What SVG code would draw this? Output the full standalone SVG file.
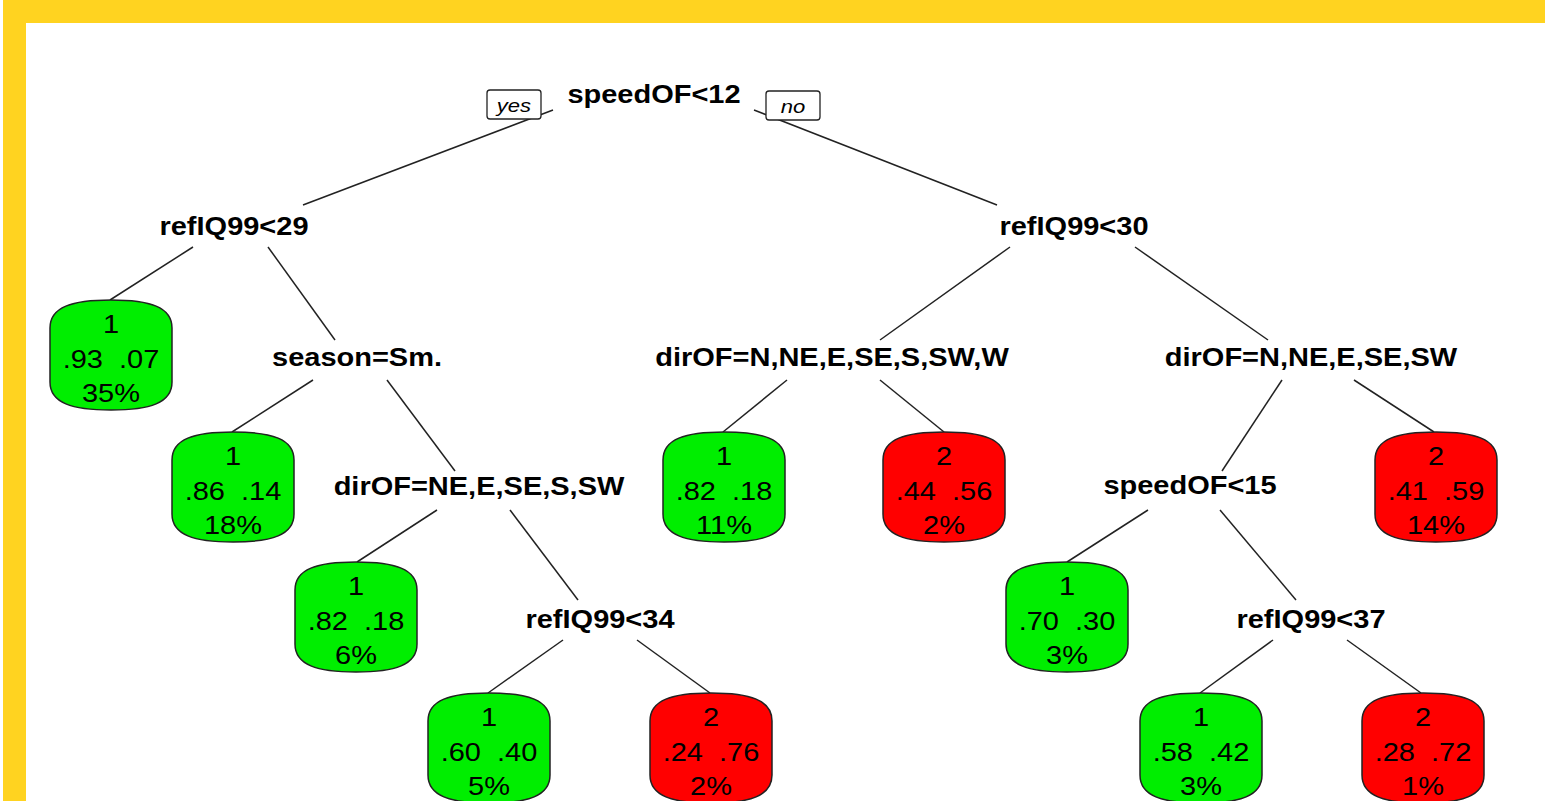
<svg xmlns="http://www.w3.org/2000/svg" xmlns:xlink="http://www.w3.org/1999/xlink" width="1545" height="801" viewBox="0 0 1545 801">
<style>
text{font-family:"Liberation Sans",Arial,sans-serif;font-size:25px;fill:#000;text-anchor:middle;white-space:pre}
.split{font-weight:bold}
.yn{font-size:19px;font-style:italic}
.edge{stroke:#222;stroke-width:1.5;fill:none}
.g{fill:#00EE00;stroke:#222;stroke-width:1.5}
.r{fill:#FF0000;stroke:#222;stroke-width:1.5}
.lab{fill:#fff;stroke:#222;stroke-width:1.3}
</style>
<defs>
<path id="leaf" d="M0,28 C0,7 22,0 61,0 C100,0 122,7 122,28 L122,82 C122,103 100,110 61,110 C22,110 0,103 0,82 Z"/>
</defs>
<rect x="0" y="0" width="1545" height="801" fill="#fff"/>
<rect x="3" y="0" width="1542" height="23" fill="#FFD320"/>
<rect x="3" y="0" width="23" height="801" fill="#FFD320"/>

<g id="connectors">
<line class="edge" x1="553" y1="110" x2="303" y2="205"/>
<line class="edge" x1="754" y1="110" x2="997" y2="205"/>
<line class="edge" x1="193" y1="247" x2="110" y2="300"/>
<line class="edge" x1="268" y1="247" x2="335" y2="340"/>
<line class="edge" x1="313" y1="380" x2="232" y2="432"/>
<line class="edge" x1="387" y1="380" x2="455" y2="471"/>
<line class="edge" x1="437" y1="510" x2="357" y2="562"/>
<line class="edge" x1="510" y1="510" x2="578" y2="600"/>
<line class="edge" x1="563" y1="640" x2="488" y2="693"/>
<line class="edge" x1="637" y1="640" x2="710" y2="693"/>
<line class="edge" x1="1010" y1="247" x2="880" y2="340"/>
<line class="edge" x1="1135" y1="247" x2="1268" y2="340"/>
<line class="edge" x1="787" y1="380" x2="723" y2="432"/>
<line class="edge" x1="880" y1="380" x2="944" y2="432"/>
<line class="edge" x1="1282" y1="380" x2="1222" y2="471"/>
<line class="edge" x1="1354" y1="380" x2="1434" y2="432"/>
<line class="edge" x1="1148" y1="510" x2="1067" y2="562"/>
<line class="edge" x1="1220" y1="510" x2="1296" y2="600"/>
<line class="edge" x1="1273" y1="640" x2="1200" y2="693"/>
<line class="edge" x1="1347" y1="640" x2="1421" y2="693"/>
</g>

<g id="yes-label">
<rect class="lab" x="487" y="90" width="54" height="29" rx="3"/>
<text class="yn" transform="translate(514,112) scale(1.16,1)">yes</text>
</g>
<g id="no-label">
<rect class="lab" x="766" y="91" width="54" height="29" rx="3"/>
<text class="yn" transform="translate(793,113) scale(1.16,1)">no</text>
</g>

<g id="n-root"><text class="split" transform="translate(654,103) scale(1.16,1)">speedOF&lt;12</text></g>
<g id="n-refIQ99-29"><text class="split" transform="translate(234,235) scale(1.16,1)">refIQ99&lt;29</text></g>
<g id="n-refIQ99-30"><text class="split" transform="translate(1074,235) scale(1.16,1)">refIQ99&lt;30</text></g>
<g id="n-season"><text class="split" transform="translate(357,366) scale(1.16,1)">season=Sm.</text></g>
<g id="n-dir7"><text class="split" transform="translate(832,366) scale(1.16,1)">dirOF=N,NE,E,SE,S,SW,W</text></g>
<g id="n-dir5"><text class="split" transform="translate(1311,366) scale(1.16,1)">dirOF=N,NE,E,SE,SW</text></g>
<g id="n-dirNE"><text class="split" transform="translate(479,495) scale(1.16,1)">dirOF=NE,E,SE,S,SW</text></g>
<g id="n-speed15"><text class="split" transform="translate(1190,494) scale(1.16,1)">speedOF&lt;15</text></g>
<g id="n-refIQ99-34"><text class="split" transform="translate(600,628) scale(1.16,1)">refIQ99&lt;34</text></g>
<g id="n-refIQ99-37"><text class="split" transform="translate(1311,628) scale(1.16,1)">refIQ99&lt;37</text></g>

<g id="leaf1" transform="translate(50,300)">
<use xlink:href="#leaf" class="g"/>
<text transform="translate(61,33) scale(1.16,1)">1</text>
<text transform="translate(61,68) scale(1.16,1)">.93  .07</text>
<text transform="translate(61,102) scale(1.16,1)">35%</text>
</g>
<g id="leaf2" transform="translate(172,432)">
<use xlink:href="#leaf" class="g"/>
<text transform="translate(61,33) scale(1.16,1)">1</text>
<text transform="translate(61,68) scale(1.16,1)">.86  .14</text>
<text transform="translate(61,102) scale(1.16,1)">18%</text>
</g>
<g id="leaf3" transform="translate(295,562)">
<use xlink:href="#leaf" class="g"/>
<text transform="translate(61,33) scale(1.16,1)">1</text>
<text transform="translate(61,68) scale(1.16,1)">.82  .18</text>
<text transform="translate(61,102) scale(1.16,1)">6%</text>
</g>
<g id="leaf4" transform="translate(428,693)">
<use xlink:href="#leaf" class="g"/>
<text transform="translate(61,33) scale(1.16,1)">1</text>
<text transform="translate(61,68) scale(1.16,1)">.60  .40</text>
<text transform="translate(61,102) scale(1.16,1)">5%</text>
</g>
<g id="leaf5" transform="translate(650,693)">
<use xlink:href="#leaf" class="r"/>
<text transform="translate(61,33) scale(1.16,1)">2</text>
<text transform="translate(61,68) scale(1.16,1)">.24  .76</text>
<text transform="translate(61,102) scale(1.16,1)">2%</text>
</g>
<g id="leaf6" transform="translate(663,432)">
<use xlink:href="#leaf" class="g"/>
<text transform="translate(61,33) scale(1.16,1)">1</text>
<text transform="translate(61,68) scale(1.16,1)">.82  .18</text>
<text transform="translate(61,102) scale(1.16,1)">11%</text>
</g>
<g id="leaf7" transform="translate(883,432)">
<use xlink:href="#leaf" class="r"/>
<text transform="translate(61,33) scale(1.16,1)">2</text>
<text transform="translate(61,68) scale(1.16,1)">.44  .56</text>
<text transform="translate(61,102) scale(1.16,1)">2%</text>
</g>
<g id="leaf8" transform="translate(1006,562)">
<use xlink:href="#leaf" class="g"/>
<text transform="translate(61,33) scale(1.16,1)">1</text>
<text transform="translate(61,68) scale(1.16,1)">.70  .30</text>
<text transform="translate(61,102) scale(1.16,1)">3%</text>
</g>
<g id="leaf9" transform="translate(1140,693)">
<use xlink:href="#leaf" class="g"/>
<text transform="translate(61,33) scale(1.16,1)">1</text>
<text transform="translate(61,68) scale(1.16,1)">.58  .42</text>
<text transform="translate(61,102) scale(1.16,1)">3%</text>
</g>
<g id="leaf10" transform="translate(1362,693)">
<use xlink:href="#leaf" class="r"/>
<text transform="translate(61,33) scale(1.16,1)">2</text>
<text transform="translate(61,68) scale(1.16,1)">.28  .72</text>
<text transform="translate(61,102) scale(1.16,1)">1%</text>
</g>
<g id="leaf11" transform="translate(1375,432)">
<use xlink:href="#leaf" class="r"/>
<text transform="translate(61,33) scale(1.16,1)">2</text>
<text transform="translate(61,68) scale(1.16,1)">.41  .59</text>
<text transform="translate(61,102) scale(1.16,1)">14%</text>
</g>
</svg>
